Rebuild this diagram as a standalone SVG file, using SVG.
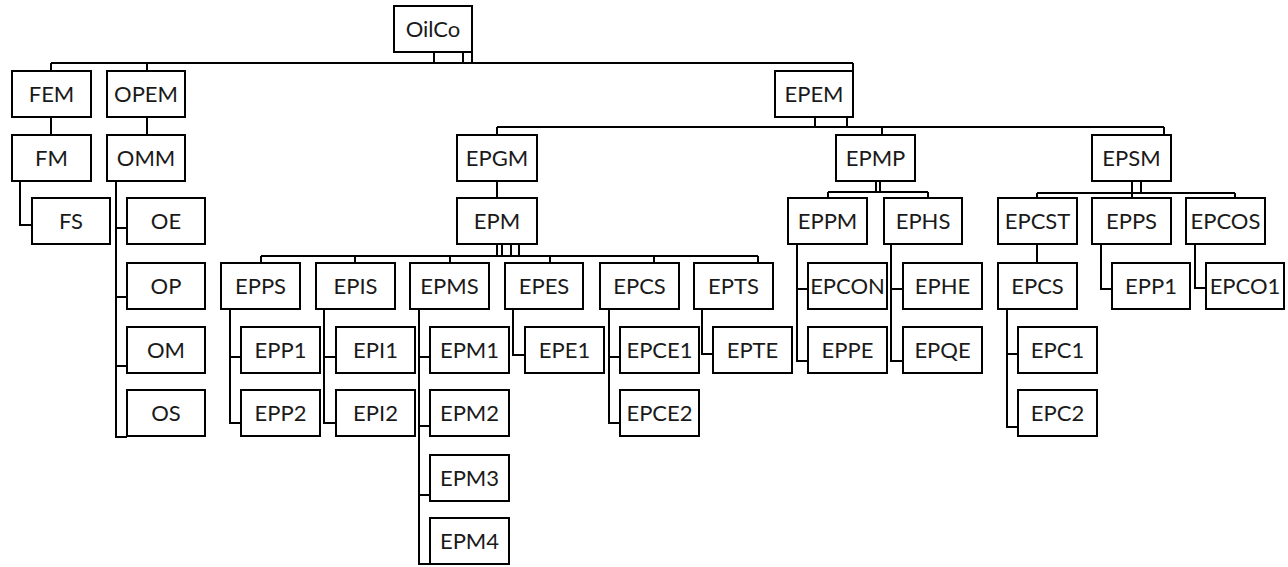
<svg xmlns="http://www.w3.org/2000/svg" width="1288" height="567" viewBox="0 0 1288 567">
<style>
.n rect{fill:#fff;stroke:#000;stroke-width:2}
.n text{font-family:Lato,"Liberation Sans",sans-serif;font-size:22px;fill:#1a1a1a;text-anchor:middle}
#connectors path{fill:none;stroke:#000;stroke-width:2}
</style>
<rect width="1288" height="567" fill="#fff"/>
<g id="connectors">
<path d="M434,52V63M463,52V63M472,52V63M51,63H853M51,63V71M147,63V71M853,63V71"/>
<path d="M51,117V135M147,117V135M20,181V225H32"/>
<path d="M116,181V437H127M116,228H127M116,297H127M116,366H127"/>
<path d="M815,117V127M847,117V127M497,127H1164M497,127V135M882,127V135M1164,127V135"/>
<path d="M497,181V198"/>
<path d="M497,244V256M502,244V256M511,244V256M519,244V256M261,256H758M261,256V263M355,256V263M450,256V263M550,256V263M654,256V263M758,256V263"/>
<path d="M230,309V423H241M230,357H241"/>
<path d="M324,309V423H336M324,357H336"/>
<path d="M419,309V564H430M419,357H430M419,426H430M419,495H430"/>
<path d="M513,309V355H525"/>
<path d="M609,309V423H620M609,357H620"/>
<path d="M702,309V354H713"/>
<path d="M876,181V192M880,181V192M828,192H928M828,192V198M928,192V198"/>
<path d="M797,244V361H808M797,289H808"/>
<path d="M891,244V361H903M891,289H903"/>
<path d="M1132,181V193M1141,181V193M1037,193H1235M1037,193V198M1132,193V198M1235,193V198"/>
<path d="M1037,244V263"/>
<path d="M1007,309V427H1018M1007,354H1018"/>
<path d="M1101,244V289H1112"/>
<path d="M1195,244V288H1206"/>
</g>
<g id="OilCo" class="n"><rect x="394" y="6" width="78" height="46"/><text x="433" y="37">OilCo</text></g>
<g id="FEM" class="n"><rect x="12" y="71" width="79" height="46"/><text x="51.5" y="102">FEM</text></g>
<g id="OPEM" class="n"><rect x="107" y="71" width="78" height="46"/><text x="146" y="102">OPEM</text></g>
<g id="EPEM" class="n"><rect x="775" y="71" width="78" height="46"/><text x="814" y="102">EPEM</text></g>
<g id="FM" class="n"><rect x="12" y="135" width="79" height="46"/><text x="51.5" y="166">FM</text></g>
<g id="OMM" class="n"><rect x="107" y="135" width="78" height="46"/><text x="146" y="166">OMM</text></g>
<g id="EPGM" class="n"><rect x="457" y="135" width="80" height="46"/><text x="497" y="166">EPGM</text></g>
<g id="EPMP" class="n"><rect x="836" y="135" width="79" height="46"/><text x="875.5" y="166">EPMP</text></g>
<g id="EPSM" class="n"><rect x="1092" y="135" width="79" height="46"/><text x="1131.5" y="166">EPSM</text></g>
<g id="FS" class="n"><rect x="32" y="198" width="78" height="46"/><text x="71" y="229">FS</text></g>
<g id="OE" class="n"><rect x="127" y="198" width="78" height="46"/><text x="166" y="229">OE</text></g>
<g id="EPM" class="n"><rect x="457" y="198" width="80" height="46"/><text x="497" y="229">EPM</text></g>
<g id="EPPM" class="n"><rect x="788" y="198" width="79" height="46"/><text x="827.5" y="229">EPPM</text></g>
<g id="EPHS" class="n"><rect x="884" y="198" width="78" height="46"/><text x="923" y="229">EPHS</text></g>
<g id="EPCST" class="n"><rect x="998" y="198" width="79" height="46"/><text x="1037.5" y="229">EPCST</text></g>
<g id="EPPS-2" class="n"><rect x="1092" y="198" width="79" height="46"/><text x="1131.5" y="229">EPPS</text></g>
<g id="EPCOS" class="n"><rect x="1186" y="198" width="79" height="46"/><text x="1225.5" y="229">EPCOS</text></g>
<g id="OP" class="n"><rect x="127" y="263" width="78" height="46"/><text x="166" y="294">OP</text></g>
<g id="EPPS" class="n"><rect x="221" y="263" width="79" height="46"/><text x="260.5" y="294">EPPS</text></g>
<g id="EPIS" class="n"><rect x="316" y="263" width="79" height="46"/><text x="355.5" y="294">EPIS</text></g>
<g id="EPMS" class="n"><rect x="410" y="263" width="79" height="46"/><text x="449.5" y="294">EPMS</text></g>
<g id="EPES" class="n"><rect x="505" y="263" width="78" height="46"/><text x="544" y="294">EPES</text></g>
<g id="EPCS" class="n"><rect x="600" y="263" width="79" height="46"/><text x="639.5" y="294">EPCS</text></g>
<g id="EPTS" class="n"><rect x="694" y="263" width="79" height="46"/><text x="733.5" y="294">EPTS</text></g>
<g id="EPCON" class="n"><rect x="808" y="263" width="79" height="46"/><text x="847.5" y="294">EPCON</text></g>
<g id="EPHE" class="n"><rect x="903" y="263" width="79" height="46"/><text x="942.5" y="294">EPHE</text></g>
<g id="EPCS-2" class="n"><rect x="998" y="263" width="79" height="46"/><text x="1037.5" y="294">EPCS</text></g>
<g id="EPP1-2" class="n"><rect x="1112" y="263" width="78" height="46"/><text x="1151" y="294">EPP1</text></g>
<g id="EPCO1" class="n"><rect x="1206" y="263" width="78" height="46"/><text x="1245" y="294">EPCO1</text></g>
<g id="OM" class="n"><rect x="127" y="327" width="78" height="46"/><text x="166" y="358">OM</text></g>
<g id="EPP1" class="n"><rect x="241" y="327" width="79" height="46"/><text x="280.5" y="358">EPP1</text></g>
<g id="EPI1" class="n"><rect x="336" y="327" width="79" height="46"/><text x="375.5" y="358">EPI1</text></g>
<g id="EPM1" class="n"><rect x="430" y="327" width="79" height="46"/><text x="469.5" y="358">EPM1</text></g>
<g id="EPE1" class="n"><rect x="525" y="327" width="79" height="46"/><text x="564.5" y="358">EPE1</text></g>
<g id="EPCE1" class="n"><rect x="620" y="327" width="79" height="46"/><text x="659.5" y="358">EPCE1</text></g>
<g id="EPTE" class="n"><rect x="713" y="327" width="79" height="46"/><text x="752.5" y="358">EPTE</text></g>
<g id="EPPE" class="n"><rect x="808" y="327" width="79" height="46"/><text x="847.5" y="358">EPPE</text></g>
<g id="EPQE" class="n"><rect x="903" y="327" width="79" height="46"/><text x="942.5" y="358">EPQE</text></g>
<g id="EPC1" class="n"><rect x="1018" y="327" width="79" height="46"/><text x="1057.5" y="358">EPC1</text></g>
<g id="OS" class="n"><rect x="127" y="390" width="78" height="46"/><text x="166" y="421">OS</text></g>
<g id="EPP2" class="n"><rect x="241" y="390" width="79" height="46"/><text x="280.5" y="421">EPP2</text></g>
<g id="EPI2" class="n"><rect x="336" y="390" width="79" height="46"/><text x="375.5" y="421">EPI2</text></g>
<g id="EPM2" class="n"><rect x="430" y="390" width="79" height="46"/><text x="469.5" y="421">EPM2</text></g>
<g id="EPCE2" class="n"><rect x="620" y="390" width="79" height="46"/><text x="659.5" y="421">EPCE2</text></g>
<g id="EPC2" class="n"><rect x="1018" y="390" width="79" height="46"/><text x="1057.5" y="421">EPC2</text></g>
<g id="EPM3" class="n"><rect x="430" y="455" width="79" height="46"/><text x="469.5" y="486">EPM3</text></g>
<g id="EPM4" class="n"><rect x="430" y="518" width="79" height="46"/><text x="469.5" y="549">EPM4</text></g>
</svg>
